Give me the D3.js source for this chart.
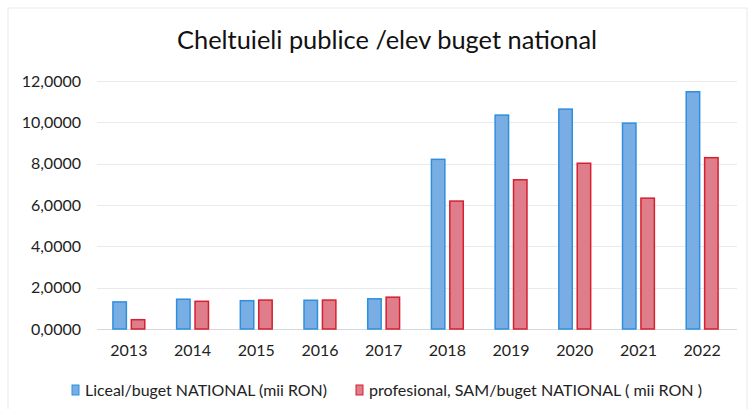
<!DOCTYPE html>
<html>
<head>
<meta charset="utf-8">
<script src="https://cdn.jsdelivr.net/npm/d3@7"></script>
<style>
  body { margin: 0; background: #fff; }
  text { font-family: Lato, "Open Sans", sans-serif; }
</style>
</head>
<body>
<div id="chart"></div>
<script>
// data
var years = ["2013", "2014", "2015", "2016", "2017", "2018", "2019", "2020", "2021", "2022"];
var liceal = [1.31, 1.44, 1.37, 1.39, 1.46, 8.21, 10.35, 10.64, 9.96, 11.48];
var profesional = [0.45, 1.34, 1.40, 1.40, 1.54, 6.19, 7.22, 8.02, 6.33, 8.29];
var seriesNames = ["Liceal/buget NATIONAL (mii RON)", "profesional, SAM/buget NATIONAL ( mii RON )"];
var yTicks = [0, 2, 4, 6, 8, 10, 12];

var width = 749, height = 409;
var margin = {top: 81, right: 15, bottom: 80, left: 97};

var svg = d3.select("#chart").append("svg")
  .attr("width", width)
  .attr("height", height);

// faint outer frame of the chart area
svg.append("rect")
  .attr("x", 8).attr("y", 8)
  .attr("width", width - 10).attr("height", height - 4)
  .attr("fill", "none")
  .attr("stroke", "#e6e9ee");

var x = d3.scaleBand()
  .domain(years)
  .range([margin.left, width - margin.right])
  .paddingInner(0.5)
  .paddingOuter(0.25);

var x1 = d3.scaleBand()
  .domain([0, 1])
  .range([0, x.bandwidth()])
  .paddingInner(0.27);

var y = d3.scaleLinear()
  .domain([0, 12])
  .range([height - margin.bottom, margin.top]);

// gridlines
svg.append("g")
  .selectAll("line")
  .data(yTicks)
  .enter().append("line")
  .attr("x1", margin.left)
  .attr("x2", width - 12)
  .attr("y1", function(d) { return Math.round(y(d)) + 0.5; })
  .attr("y2", function(d) { return Math.round(y(d)) + 0.5; })
  .attr("stroke", function(d) { return d === 0 ? "#d5d8dc" : "#e8eaed"; })
  .attr("stroke-width", 1);

// y axis labels
var yAxis = d3.axisLeft(y)
  .tickValues(yTicks)
  .tickSize(0)
  .tickPadding(16)
  .tickFormat(function(d) { return d3.format(",.4f")(d).replace(".", ",").replace(/^(\d+),(\d{3}),/, "$1$2,"); });

var yg = svg.append("g")
  .attr("transform", "translate(" + margin.left + ",0)")
  .call(yAxis);
yg.select(".domain").remove();
yg.selectAll("text")
  .attr("font-size", 16)
  .attr("fill", "#222")
  .style("font-family", "Lato, 'Open Sans', sans-serif");

// x axis labels
var xAxis = d3.axisBottom(x).tickSize(0).tickPadding(16);
var xg = svg.append("g")
  .attr("transform", "translate(0," + y(0) + ")")
  .call(xAxis);
xg.select(".domain").remove();
xg.selectAll("text")
  .attr("font-size", 16)
  .attr("fill", "#222")
  .style("font-family", "Lato, 'Open Sans', sans-serif");

var fills = ["#79aee4", "#e07d8a"];
var strokes = ["#2f8fdc", "#d4202f"];
var allSeries = [liceal, profesional];

allSeries.forEach(function(vals, s) {
  svg.append("g")
    .selectAll("rect")
    .data(vals)
    .enter().append("rect")
    .attr("x", function(d, i) { return x(years[i]) + x1(s); })
    .attr("y", function(d) { return y(d); })
    .attr("width", x1.bandwidth())
    .attr("height", function(d) { return y(0) - y(d); })
    .attr("fill", fills[s])
    .attr("stroke", strokes[s])
    .attr("stroke-width", 1.5);
});

// title
svg.append("text")
  .attr("x", 387)
  .attr("y", 49)
  .attr("text-anchor", "middle")
  .attr("font-size", 25)
  .attr("fill", "#111")
  .attr("textLength", 420)
  .attr("lengthAdjust", "spacingAndGlyphs")
  .text("Cheltuieli publice /elev buget national");

// legend
var legendX = [72, 356];
var legendW = [242, 333];
seriesNames.forEach(function(name, s) {
  var g = svg.append("g").attr("transform", "translate(" + legendX[s] + ",385)");
  g.append("rect")
    .attr("x", 0).attr("y", 0)
    .attr("width", 7).attr("height", 10)
    .attr("fill", fills[s])
    .attr("stroke", strokes[s])
    .attr("stroke-width", 1);
  g.append("text")
    .attr("x", 13)
    .attr("y", 11)
    .attr("font-size", 16)
    .attr("fill", "#222")
    .attr("textLength", legendW[s])
    .attr("lengthAdjust", "spacingAndGlyphs")
    .text(name);
});
</script>
</body>
</html>
